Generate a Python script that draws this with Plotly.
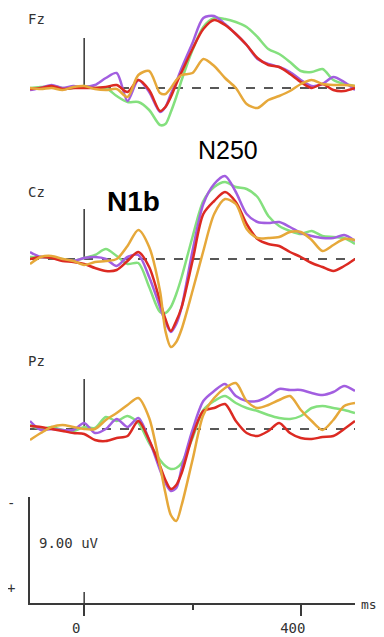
import plotly.graph_objects as go

# page body has an 8px margin, so the figure is drawn 8px in from the top-left corner
PAD = 8
W = 384 - PAD
H = 637 - PAD

# time points (ms)
times = [-100, -80, -60, -40, -20, 0, 20, 40, 60, 80, 100, 120, 140, 150, 160, 170, 180,
         200, 220, 240, 260, 280, 300, 320, 340, 360, 380, 400, 420, 440, 460, 480, 500]

# amplitudes in uV (negative plotted up)
fz_green = [0.0, -0.1, -0.2, 0.0, 0.0, -0.2, 0.0, 0.0, 0.8, 1.4, 1.4, 2.2, 3.7, 3.6, 2.4, 0.9, -0.8,
            -3.8, -6.1, -7.0, -6.9, -6.6, -6.1, -5.1, -3.9, -3.4, -2.6, -1.7, -1.6, -1.9, -0.8, -0.4, -0.2]
fz_purple = [0.2, 0.0, -0.3, 0.0, -0.2, -0.1, -0.3, -1.0, -1.5, 1.3, -0.8, 0.4, 2.4, 1.9, 0.6, -0.6, -2.0,
             -4.5, -7.0, -7.2, -6.4, -5.4, -4.3, -2.9, -2.4, -2.1, -1.6, -0.8, -0.2, -0.4, -1.1, -0.6, 0.2]
fz_red = [0.1, 0.0, -0.2, 0.1, 0.0, 0.0, 0.0, -0.1, -0.3, 0.4, -0.8, 0.2, 2.3, 1.9, 0.9, -0.4, -1.6,
          -3.9, -5.9, -6.8, -6.3, -5.4, -4.3, -3.0, -2.3, -2.1, -1.4, -0.6, 0.0, -0.4, 0.2, 0.3, 0.0]
fz_orange = [0.0, 0.1, 0.0, 0.2, -0.1, -0.2, 0.1, 0.2, 0.1, 0.9, -1.3, -1.7, 0.5, 0.6, 0.0, -0.8, -1.3,
             -1.5, -2.9, -2.2, -1.0, 0.0, 1.6, 2.0, 1.2, 0.8, 0.3, -0.4, -0.8, -0.4, -0.3, -0.3, -0.2]

cz_green = [-0.2, -0.2, -0.1, 0.0, 0.2, -0.1, -0.4, -1.0, -0.3, 0.5, 0.4, 2.8, 5.3, 5.4, 4.8, 3.5, 1.8,
            -2.2, -5.8, -7.2, -7.7, -7.2, -7.0, -6.2, -4.3, -3.3, -2.8, -2.5, -2.8, -2.3, -2.2, -2.1, -1.5]
cz_purple = [-0.7, -0.2, -0.2, 0.1, 0.2, -0.1, -0.2, 0.0, 0.7, -0.2, -0.4, 1.8, 4.8, 6.3, 7.3, 6.5, 4.8,
             -0.8, -5.5, -7.5, -8.3, -6.7, -4.5, -3.7, -3.6, -3.7, -3.2, -2.6, -2.3, -2.1, -2.1, -2.4, -1.8]
cz_red = [0.0, -0.2, -0.1, 0.2, 0.3, 0.5, 0.9, 1.2, 1.1, 0.2, -0.7, 0.8, 4.2, 6.0, 7.2, 6.2, 4.8,
          0.2, -4.5, -5.8, -6.7, -5.7, -3.5, -2.0, -1.5, -1.3, -0.7, -0.2, 0.4, 0.8, 1.2, 0.7, 0.0]
cz_orange = [0.5, -0.2, -0.3, 0.0, 0.2, 0.6, 0.3, 0.2, 0.0, -1.3, -2.9, -1.2, 3.2, 7.2, 8.8, 8.3, 7.0,
             3.2, -0.8, -4.5, -6.0, -5.5, -3.0, -2.1, -2.1, -2.2, -2.7, -2.7, -1.9, -0.8, -1.4, -2.0, -1.9]

pz_green = [-0.4, 0.0, -0.2, 0.1, 0.2, -0.2, -0.1, -1.2, -0.8, -1.3, -0.6, 1.4, 3.1, 3.7, 4.0, 3.9, 3.4,
            0.9, -1.9, -2.8, -3.3, -2.6, -2.1, -1.8, -1.4, -1.1, -1.0, -1.3, -2.1, -2.3, -2.1, -1.9, -1.6]
pz_purple = [-0.8, 0.1, 0.0, 0.1, 0.1, -0.6, 0.4, 0.0, -1.0, -0.2, -1.1, 1.1, 4.1, 5.4, 6.2, 5.9, 3.9,
             0.1, -2.8, -3.8, -4.5, -3.3, -2.8, -2.8, -3.3, -4.0, -3.9, -3.9, -3.6, -3.4, -3.7, -4.3, -3.8]
pz_red = [-0.3, -0.2, 0.0, 0.2, 0.4, 0.5, 1.1, 1.2, 0.9, 0.7, -0.8, 1.1, 3.7, 5.1, 6.0, 5.6, 4.4,
          0.7, -1.8, -2.1, -2.5, -0.8, 0.4, 0.7, 0.2, -0.6, 0.4, 0.9, 1.0, 0.8, 0.7, 0.0, -0.8]
pz_orange = [1.1, 0.4, -0.2, -0.4, -0.2, 0.0, 0.0, -0.9, -1.6, -2.4, -3.1, -1.1, 3.7, 6.4, 8.6, 9.2, 7.6,
             3.1, -1.4, -3.1, -4.1, -4.6, -2.8, -2.1, -2.4, -2.9, -3.3, -1.9, -0.8, 0.1, -0.9, -2.3, -2.6]

colors = {'green': '#84e07e', 'purple': '#a25ee0', 'red': '#dc2a22', 'orange': '#e6a83a'}

panels = [
    ('y', {'green': fz_green, 'purple': fz_purple, 'red': fz_red, 'orange': fz_orange}),
    ('y2', {'green': cz_green, 'purple': cz_purple, 'red': cz_red, 'orange': cz_orange}),
    ('y3', {'green': pz_green, 'purple': pz_purple, 'red': pz_red, 'orange': pz_orange}),
]


def px_(p):
    # screen column -> paper x
    return (p - PAD) / W


def py(p):
    # screen row -> paper y
    return 1 - (p - PAD) / H


fig = go.Figure()
shapes = []
for yref, series in panels:
    shapes.append(dict(type='line', xref='x', yref=yref, x0=-100, x1=500, y0=0, y1=0,
                       line=dict(color='#222222', width=1.3, dash='dash'), layer='below'))
    shapes.append(dict(type='line', xref='x', yref=yref, x0=0, x1=0, y0=0, y1=-5,
                       line=dict(color='#333333', width=1.5), layer='below'))
    for name in ['green', 'purple', 'red', 'orange']:
        fig.add_trace(go.Scatter(x=times, y=series[name], xaxis='x', yaxis=yref, mode='lines',
                                 line=dict(color=colors[name], width=2.5, shape='spline', smoothing=0.8),
                                 showlegend=False, hoverinfo='skip'))

# tick at 0 crossing the time axis
shapes.append(dict(type='line', xref='x', yref='y4', x0=0, x1=0, y0=0, y1=1.1,
                   line=dict(color='#3a3a3a', width=1.5)))

mono = dict(family='DejaVu Sans Mono', size=14, color='#333333')
annotations = [
    dict(text='Fz', x=px_(36.5), y=py(19), font=mono),
    dict(text='Cz', x=px_(36), y=py(192), font=mono),
    dict(text='Pz', x=px_(36.5), y=py(361), font=mono),
    dict(text='N250', x=px_(227.5), y=py(150), font=dict(family='Liberation Sans', size=25, color='black')),
    dict(text='<b>N1b</b>', x=px_(133), y=py(201), font=dict(family='Liberation Sans', size=28, color='black')),
    dict(text='9.00 uV', x=px_(69), y=py(543), font=mono),
    dict(text='-', x=px_(11), y=py(503), font=mono),
    dict(text='+', x=px_(11), y=py(588), font=mono),
    dict(text='ms', x=px_(369), y=py(604), font=dict(family='DejaVu Sans Mono', size=13, color='#333333')),
]
for a in annotations:
    a.update(xref='paper', yref='paper', showarrow=False, xanchor='center', yanchor='middle')

fig.update_layout(
    width=W, height=H,
    margin=dict(l=0, r=0, t=0, b=0),
    paper_bgcolor='white', plot_bgcolor='rgba(0,0,0,0)',
    shapes=shapes,
    annotations=annotations,
    xaxis=dict(domain=[px_(30), px_(355)], range=[-100, 500], anchor='y4',
               showline=True, linecolor='#3a3a3a', linewidth=1.5,
               ticks='outside', tickvals=[0, 400], ticktext=['0', '400'],
               ticklen=11, tickwidth=1.5, tickcolor='#3a3a3a',
               minor=dict(tickvals=[200], ticks='outside', ticklen=5, tickwidth=1.5, tickcolor='#3a3a3a'),
               showgrid=False, zeroline=False, tickfont=mono, ticklabelshift=-8),
    yaxis=dict(domain=[py(160), py(PAD)], range=[7.2, -8.0], visible=False, anchor='x'),
    yaxis2=dict(domain=[py(350), py(165)], range=[9.1, -9.4], visible=False, anchor='x'),
    yaxis3=dict(domain=[py(530), py(350)], range=[10.1, -7.9], visible=False, anchor='x'),
    yaxis4=dict(domain=[py(603), py(497)], range=[0, 10.6], anchor='x',
                showline=True, linecolor='#3a3a3a', linewidth=1.5,
                ticks='inside', tickvals=[10.55], ticklen=10, tickwidth=1.5, tickcolor='#3a3a3a',
                showticklabels=False, showgrid=False, zeroline=False),
)

fig.write_html("out.html")
